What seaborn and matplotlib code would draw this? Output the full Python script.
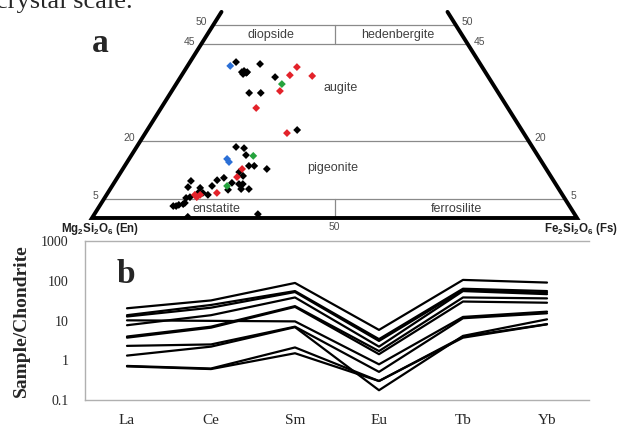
import numpy as np
import pandas as pd
import seaborn as sns
import matplotlib.pyplot as plt

# panel a: pyroxene compositions (Fs, Wo in mol %)
fs_black = [9.5, 12.0, 12.3, 13.1, 12.5, 13.0, 14.7, 19.5, 16.2, 18.6, 30.9,
            20.5, 22.3, 23.6, 25.6, 26.7, 24.4, 29.7, 25.7, 22.0, 20.9, 20.6,
            24.3, 25.9, 26.7, 24.4, 27.0, 28.6, 15.6, 15.8, 18.4, 18.7, 19.6,
            20.9, 16.8, 17.5, 15.2, 15.8, 16.2, 17.0, 17.2, 19.6, 33.7, 34.4]
wo_black = [40.4, 37.8, 38.1, 37.8, 37.3, 37.6, 39.9, 36.5, 32.4, 32.4, 22.8,
            18.4, 18.1, 16.3, 13.5, 13.5, 11.9, 12.7, 10.9, 10.4, 9.8, 8.3,
            9.1, 8.8, 8.8, 7.3, 7.5, 7.5, 9.6, 8.0, 7.8, 6.7, 6.5,
            6.0, 5.2, 5.4, 3.1, 3.1, 3.4, 3.6, 3.9, 0.3, 1.0, 0.0]
fs_red = [22.7, 22.3, 27.0, 22.3, 19.6, 29.2, 24.6, 24.6, 22.5, 18.2, 19.3, 18.9]
wo_red = [39.1, 37.0, 36.8, 32.9, 28.5, 22.0, 12.7, 10.6, 6.5, 6.0, 6.0, 5.4]
fs_blue = [8.8, 20.2, 21.0]
wo_blue = [39.4, 15.3, 14.5]
fs_green = [21.8, 25.2, 23.7]
wo_green = [34.7, 16.1, 8.3]

# field boundaries (Wo %)
wo_lines = [5, 20, 45, 50]

# panel b: chondrite-normalised REE, one entry per sample
elements = ['La', 'Ce', 'Sm', 'Eu', 'Tb', 'Yb']
ree_la = [20.3, 13.6, 12.6, 7.6, 10.1, 3.95, 3.7, 2.3, 1.31, 0.72, 0.70]
ree_ce = [32, 24.6, 21, 13.6, 9.8, 7.0, 6.6, 2.5, 2.2, 0.62, 0.60]
ree_sm = [88, 55, 52, 38, 9.5, 23, 22, 7.0, 6.8, 2.1, 1.5]
ree_eu = [5.8, 3.4, 3.06, 2.2, 0.79, 1.7, 1.42, 0.51, 0.176, 0.30, 0.30]
ree_tb = [105, 63, 58, 55, 12.3, 38, 30, 11.4, 4.1, 3.9, 3.7]
ree_yb = [90, 55, 50, 46, 16.7, 36, 28, 15.2, 10.7, 8.1, 8.0]

sns.set_style('white')
plt.rcParams['font.family'] = ['Liberation Sans', 'DejaVu Sans']
plt.rcParams['mathtext.fontset'] = 'custom'
plt.rcParams['mathtext.rm'] = 'Liberation Sans'
plt.rcParams['mathtext.bf'] = 'Liberation Sans:bold'
serif = ['Liberation Serif', 'DejaVu Serif']

W, H = 629, 424
fig = plt.figure(figsize=(W / 100, H / 100), dpi=100)

# ---------- panel a ----------
wo_scale = 3.86  # px per Wo %
ax1 = fig.add_axes([92 / W, 1 - 218 / H, 485 / W, 218 / H])

pts = pd.concat([
    pd.DataFrame({'fs': fs_black, 'wo': wo_black, 'group': 'black'}),
    pd.DataFrame({'fs': fs_red, 'wo': wo_red, 'group': 'red'}),
    pd.DataFrame({'fs': fs_blue, 'wo': wo_blue, 'group': 'blue'}),
    pd.DataFrame({'fs': fs_green, 'wo': wo_green, 'group': 'green'}),
])
pts['x'] = pts['fs'] + pts['wo'] / 2
pal = {'black': 'black', 'red': '#e3222a', 'blue': '#2b6fd6', 'green': '#25a33d'}
sns.scatterplot(data=pts, x='x', y='wo', hue='group', palette=pal, marker='D',
                s=16, linewidth=0, legend=False, ax=ax1, zorder=3)

wo_top = 53.4
ax1.plot([wo_top / 2, 0, 100, 100 - wo_top / 2], [wo_top, 0, 0, wo_top],
         color='black', lw=2.8, solid_joinstyle='miter', clip_on=False, zorder=4)
for w in wo_lines:
    ax1.plot([w / 2, 100 - w / 2], [w, w], color='#8a8a8a', lw=0.9, zorder=1)
    ax1.text(w / 2 - 1.2, w + 0.7, str(w), ha='right', va='center',
             fontsize=7.5, color='#505050')
    ax1.text(100 - w / 2 + 1.2, w + 0.7, str(w), ha='left', va='center',
             fontsize=7.5, color='#505050')
ax1.plot([50, 50], [0, 5], color='#8a8a8a', lw=0.9)
ax1.plot([50, 50], [45, 50], color='#8a8a8a', lw=0.9)

lab = dict(ha='center', va='center', fontsize=9, color='#404040')
ax1.text(36.8, 47.4, 'diopside', **lab)
ax1.text(63.0, 47.4, 'hedenbergite', **lab)
ax1.text(51.3, 33.7, 'augite', **lab)
ax1.text(49.7, 13.0, 'pigeonite', **lab)
ax1.text(25.6, 2.3, 'enstatite', **lab)
ax1.text(75.1, 2.3, 'ferrosilite', **lab)
ax1.text(50, -2.4, '50', ha='center', va='center', fontsize=7.5, color='#505050')
ax1.text(1.6, -2.8, r'$\mathbf{Mg_2Si_2O_6}$ (En)', ha='center', va='center',
         fontsize=8.3, fontweight='bold', color='#202020')
ax1.text(100.8, -2.8, r'$\mathbf{Fe_2Si_2O_6}$ (Fs)', ha='center', va='center',
         fontsize=8.3, fontweight='bold', color='#202020')

ax1.set_xlim(0, 100)
ax1.set_ylim(0, 218 / wo_scale)
ax1.axis('off')

# ---------- panel b ----------
ax2 = fig.add_axes([85 / W, 1 - 400 / H, (589 - 85) / W, 159 / H])
cols = [ree_la, ree_ce, ree_sm, ree_eu, ree_tb, ree_yb]
rows = []
for i, vals in enumerate(cols):
    for s, v in enumerate(vals):
        rows.append({'sample': s, 'pos': i, 'value': v})
ree = pd.DataFrame(rows)
sns.lineplot(data=ree, x='pos', y='value', units='sample', estimator=None,
             color='black', lw=1.6, ax=ax2, legend=False)

ax2.set_yscale('log')
ax2.set_ylim(0.1, 1000)
ax2.set_xlim(-0.5, 5.5)
ax2.set_yticks([0.1, 1, 10, 100, 1000])
ax2.set_yticklabels(['0.1', '1', '10', '100', '1000'], family=serif, fontsize=10)
ax2.minorticks_off()
ax2.set_xticks(np.arange(-0.5, 6, 1))
ax2.set_xticklabels([])
ax2.set_xticks(range(6), minor=True)
ax2.set_xticklabels(elements, minor=True, family=serif, fontsize=11)
ax2.tick_params(axis='x', which='minor', length=0, pad=10)
ax2.tick_params(which='major', direction='out', length=3, color='#b0b0b0', width=0.8)
ax2.tick_params(axis='y', pad=9)
for side in ['left', 'bottom', 'top']:
    ax2.spines[side].set_color('#b0b0b0')
    ax2.spines[side].set_linewidth(1.0)
ax2.spines['right'].set_visible(False)
ax2.set_xlabel('')
ax2.set_ylabel('')

fig.text(21 / W, 1 - 321 / H, 'Sample/Chondrite', rotation=90, ha='center',
         va='center', family=serif, fontweight='bold', fontsize=14)
fig.text(117 / W, 1 - 283 / H, 'b', family=serif, fontweight='bold', fontsize=24,
         va='baseline')
fig.text(92 / W, 1 - 52 / H, 'a', family=serif, fontweight='bold', fontsize=24,
         va='baseline')
fig.text(-4 / W, 1 - 8 / H, 'crystal scale.', family=serif, fontsize=19,
         va='baseline')

fig.savefig('out.png', dpi=100)
